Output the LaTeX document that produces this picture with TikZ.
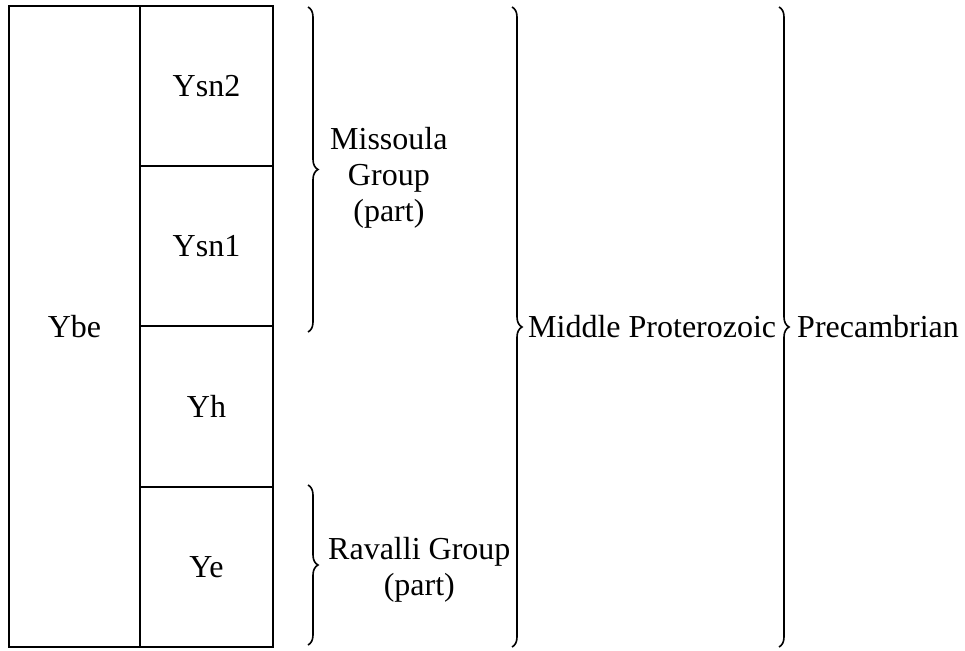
\documentclass[tikz,border=0pt]{standalone}
\usepackage{fontspec}
\setmainfont{Liberation Serif}
\usetikzlibrary{positioning,decorations.pathreplacing}

\tikzset{
  unit/.style={draw, line width=2pt, minimum width=133pt, minimum height=160.25pt,
    inner sep=0pt, outer sep=0pt},
  bigunit/.style={unit, minimum width=131pt, minimum height=641pt},
  bracket/.style={decorate, decoration={brace, amplitude=10pt}, line width=1.6pt},
  grouplabel/.style={anchor=west, align=center, inner sep=0pt}
}

\begin{document}
\begin{tikzpicture}[x=1pt, y=-1pt, font=\fontsize{32}{36}\selectfont]
    \useasboundingbox (0,0) rectangle (965,650);
    % column of units
    \node[unit] (ysn2) at (206.5,86.1) {Ysn2};
    \node[unit, below=0pt of ysn2] (ysn1) {Ysn1};
    \node[unit, below=0pt of ysn1] (yh) {Yh};
    \node[unit, below=0pt of yh] (ye) {Ye};
    \node[bigunit, anchor=north east] (ybe) at (ysn2.north west) {Ybe};

    % braces
    \coordinate (msTop) at (308,7);
    \coordinate (msBot) at (308,332);
    \coordinate (rvTop) at (308,485);
    \coordinate (rvBot) at (308,645);
    \coordinate (mpTop) at (512,7);
    \coordinate (mpBot) at (512,647);
    \coordinate (pcTop) at (779,7);
    \coordinate (pcBot) at (779,647);
    \draw[bracket] (msTop) -- (msBot);
    \draw[bracket] (rvTop) -- (rvBot);
    \draw[bracket] (mpTop) -- (mpBot);
    \draw[bracket] (pcTop) -- (pcBot);

    \node[grouplabel] (missoula) at (330,178) {Missoula\\Group\\(part)};
    \node[grouplabel] (ravalli) at (328,570) {Ravalli Group\\(part)};
    \node[grouplabel] (midprot) at (528,327) {Middle Proterozoic};
    \node[grouplabel] (precamb) at (797,327) {Precambrian};
\end{tikzpicture}
\end{document}
